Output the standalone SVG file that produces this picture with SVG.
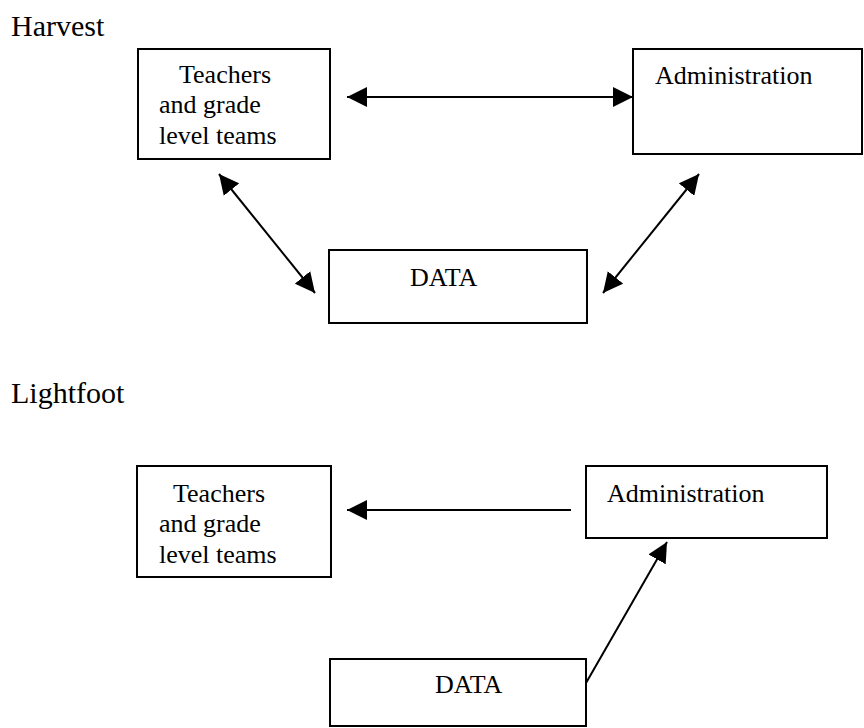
<svg xmlns="http://www.w3.org/2000/svg" width="864" height="728" viewBox="0 0 864 728">
<style>
.box{fill:#fff;stroke:#000;stroke-width:2}
.t{font-family:"Liberation Serif","Times New Roman",serif;font-size:26px;fill:#000}
.title{font-family:"Liberation Serif","Times New Roman",serif;font-size:30px;fill:#000}
.c{stroke:#000;stroke-width:2;fill:none}
</style>
<defs>
<marker id="ah" markerUnits="userSpaceOnUse" markerWidth="20" markerHeight="20" refX="20" refY="10" orient="auto-start-reverse" viewBox="0 0 20 20">
<path d="M0,0 L20,10 L0,20 z" fill="#000"/>
</marker>
</defs>
<rect width="864" height="728" fill="#fff"/>
<text class="title" x="11" y="36">Harvest</text>
<text class="title" x="11" y="403">Lightfoot</text>
<g id="h-teachers">
<rect class="box" x="138" y="49" width="192" height="110"/>
<text class="t" x="179" y="83">Teachers</text>
<text class="t" x="159" y="113">and grade</text>
<text class="t" x="159" y="144">level teams</text>
</g>
<g id="h-admin">
<rect class="box" x="633" y="49" width="229" height="105"/>
<text class="t" x="655" y="84">Administration</text>
</g>
<g id="h-data">
<rect class="box" x="329" y="250" width="258" height="73"/>
<text class="t" x="410" y="286">DATA</text>
</g>
<g id="l-teachers">
<rect class="box" x="137" y="466" width="194" height="111"/>
<text class="t" x="173" y="502">Teachers</text>
<text class="t" x="159" y="532">and grade</text>
<text class="t" x="159" y="563">level teams</text>
</g>
<g id="l-admin">
<rect class="box" x="586" y="466" width="241" height="72"/>
<text class="t" x="607" y="502">Administration</text>
</g>
<g id="l-data">
<rect class="box" x="330" y="659" width="256" height="67"/>
<text class="t" x="435" y="693">DATA</text>
</g>
<g id="connectors">
<line class="c" x1="347" y1="97" x2="633" y2="97" marker-start="url(#ah)" marker-end="url(#ah)"/>
<line class="c" x1="219" y1="174" x2="315" y2="293" marker-start="url(#ah)" marker-end="url(#ah)"/>
<line class="c" x1="603" y1="293" x2="699" y2="174" marker-start="url(#ah)" marker-end="url(#ah)"/>
<line class="c" x1="571" y1="510" x2="347" y2="510" marker-end="url(#ah)"/>
<line class="c" x1="586" y1="683" x2="667" y2="542" marker-end="url(#ah)"/>
</g>
</svg>
